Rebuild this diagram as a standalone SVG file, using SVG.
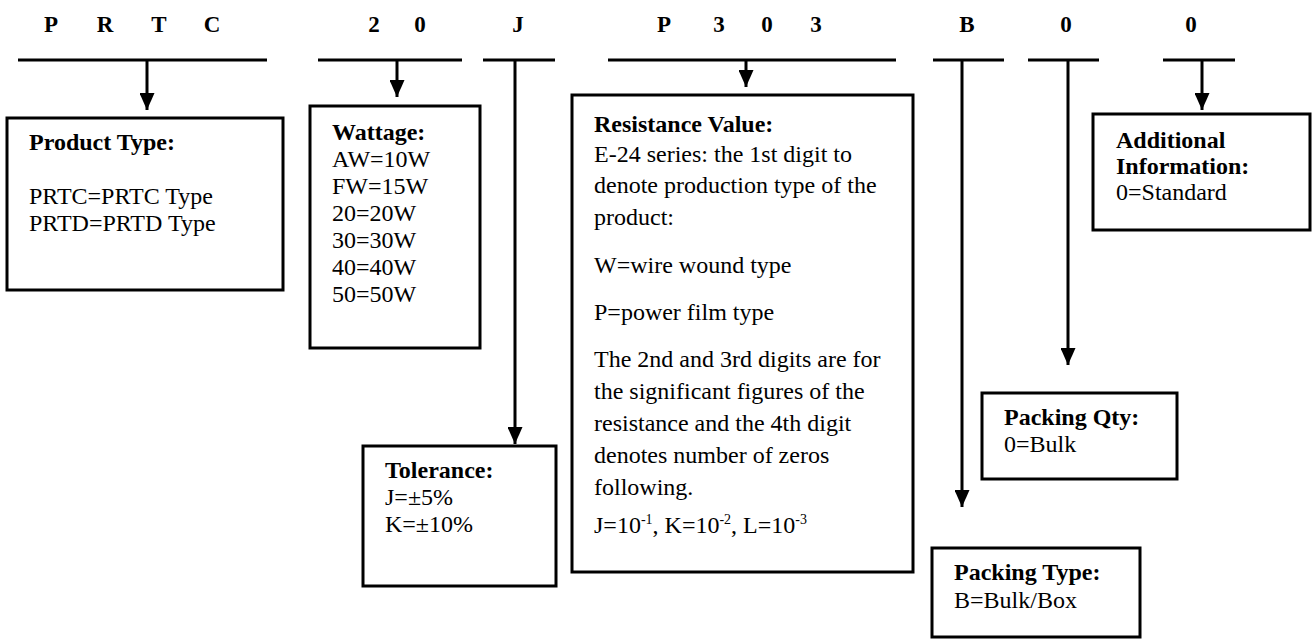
<svg xmlns="http://www.w3.org/2000/svg" width="1316" height="644" viewBox="0 0 1316 644">
<style>
.code{font-weight:bold;font-size:23px;fill:#000;text-anchor:middle}
.t{font-size:24px;fill:#000}
.b{font-weight:bold}
.box{fill:#fff;stroke:#000;stroke-width:3}
.ln{stroke:#000;stroke-width:3;fill:none}
.sup{font-size:14px}
</style>
<defs>
<marker id="ah" viewBox="0 0 17 15" refX="17" refY="7.5" markerWidth="17" markerHeight="15" markerUnits="userSpaceOnUse" orient="auto">
<path d="M0,0 L17,7.5 L0,15 Z" fill="#000"/>
</marker>
</defs>
<g font-family="'Liberation Serif', Tinos, 'Times New Roman', 'DejaVu Serif', serif">
<g id="code">
<text class="code" x="51" y="32">P</text>
<text class="code" x="105" y="32">R</text>
<text class="code" x="159" y="32">T</text>
<text class="code" x="212" y="32">C</text>
<text class="code" x="374" y="32">2</text>
<text class="code" x="420" y="32">0</text>
<text class="code" x="518" y="32">J</text>
<text class="code" x="664" y="32">P</text>
<text class="code" x="719" y="32">3</text>
<text class="code" x="767" y="32">0</text>
<text class="code" x="816" y="32">3</text>
<text class="code" x="967" y="32">B</text>
<text class="code" x="1066" y="32">0</text>
<text class="code" x="1191" y="32">0</text>
</g>
<g id="connectors">
<line class="ln" x1="18" y1="60" x2="267" y2="60"/>
<line class="ln" x1="147" y1="60" x2="147" y2="110" marker-end="url(#ah)"/>
<line class="ln" x1="318" y1="60" x2="462" y2="60"/>
<line class="ln" x1="397" y1="60" x2="397" y2="97" marker-end="url(#ah)"/>
<line class="ln" x1="483" y1="60" x2="555" y2="60"/>
<line class="ln" x1="515" y1="60" x2="515" y2="444" marker-end="url(#ah)"/>
<line class="ln" x1="608" y1="60" x2="896" y2="60"/>
<line class="ln" x1="746" y1="60" x2="746" y2="87" marker-end="url(#ah)"/>
<line class="ln" x1="933" y1="60" x2="1004" y2="60"/>
<line class="ln" x1="962" y1="60" x2="962" y2="507" marker-end="url(#ah)"/>
<line class="ln" x1="1028" y1="60" x2="1099" y2="60"/>
<line class="ln" x1="1068" y1="60" x2="1068" y2="365" marker-end="url(#ah)"/>
<line class="ln" x1="1163" y1="60" x2="1235" y2="60"/>
<line class="ln" x1="1202" y1="60" x2="1202" y2="110" marker-end="url(#ah)"/>
</g>
<g id="product-type">
<rect class="box" x="7" y="118" width="276" height="172"/>
<text class="t b" x="29" y="150">Product Type:</text>
<text class="t" x="29" y="204">PRTC=PRTC Type</text>
<text class="t" x="29" y="231">PRTD=PRTD Type</text>
</g>
<g id="wattage">
<rect class="box" x="310" y="106" width="170" height="242"/>
<text class="t b" x="332" y="140">Wattage:</text>
<text class="t" x="332" y="167">AW=10W</text>
<text class="t" x="332" y="194">FW=15W</text>
<text class="t" x="332" y="221">20=20W</text>
<text class="t" x="332" y="248">30=30W</text>
<text class="t" x="332" y="275">40=40W</text>
<text class="t" x="332" y="302">50=50W</text>
</g>
<g id="tolerance">
<rect class="box" x="363" y="446" width="193" height="140"/>
<text class="t b" x="385" y="478">Tolerance:</text>
<text class="t" x="385" y="505">J=±5%</text>
<text class="t" x="385" y="532">K=±10%</text>
</g>
<g id="resistance">
<rect class="box" x="572" y="95" width="341" height="477"/>
<text class="t b" x="594" y="132">Resistance Value:</text>
<text class="t" x="594" y="162">E-24 series: the 1st digit to</text>
<text class="t" x="594" y="193">denote production type of the</text>
<text class="t" x="594" y="225">product:</text>
<text class="t" x="594" y="273">W=wire wound type</text>
<text class="t" x="594" y="320">P=power film type</text>
<text class="t" x="594" y="367">The 2nd and 3rd digits are for</text>
<text class="t" x="594" y="399">the significant figures of the</text>
<text class="t" x="594" y="431">resistance and the 4th digit</text>
<text class="t" x="594" y="463">denotes number of zeros</text>
<text class="t" x="594" y="495">following.</text>
<text class="t" x="594" y="533">J=10<tspan class="sup" dy="-9">-1</tspan><tspan dy="9">, K=10</tspan><tspan class="sup" dy="-9">-2</tspan><tspan dy="9">, L=10</tspan><tspan class="sup" dy="-9">-3</tspan></text>
</g>
<g id="additional">
<rect class="box" x="1093" y="114" width="217" height="116"/>
<text class="t b" x="1116" y="148">Additional</text>
<text class="t b" x="1116" y="174">Information:</text>
<text class="t" x="1116" y="200">0=Standard</text>
</g>
<g id="packing-qty">
<rect class="box" x="982" y="393" width="195" height="86"/>
<text class="t b" x="1004" y="425">Packing Qty:</text>
<text class="t" x="1004" y="452">0=Bulk</text>
</g>
<g id="packing-type">
<rect class="box" x="932" y="548" width="208" height="89"/>
<text class="t b" x="954" y="580">Packing Type:</text>
<text class="t" x="954" y="608">B=Bulk/Box</text>
</g>
</g>
</svg>
